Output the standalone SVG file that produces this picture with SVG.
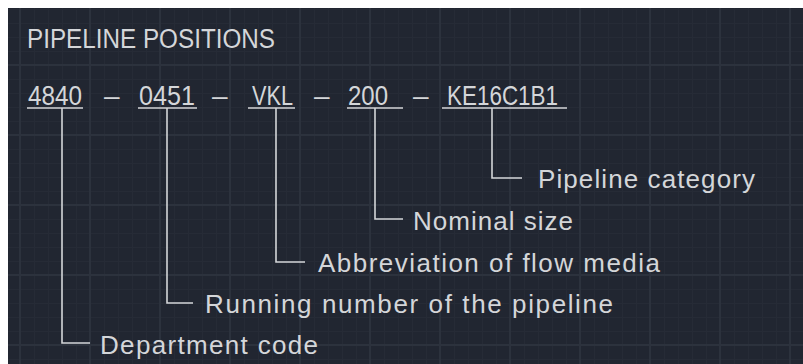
<svg xmlns="http://www.w3.org/2000/svg" width="803" height="364" viewBox="0 0 803 364">
  <defs>
    <pattern id="minor" width="14" height="14" patternUnits="userSpaceOnUse" x="6" y="9">
      <rect x="0" y="0" width="1" height="14" fill="#262b36"/>
      <rect x="0" y="0" width="14" height="1" fill="#262b36"/>
    </pattern>
    <pattern id="major" width="70" height="70" patternUnits="userSpaceOnUse" x="19" y="64">
      <rect x="0" y="0" width="2" height="70" fill="#2c323d"/>
      <rect x="0" y="0" width="70" height="2" fill="#2c323d"/>
    </pattern>
  </defs>
  <style>
    .t { font-family: "Liberation Sans", Arial, sans-serif; fill: #d4d6d9; }
    .title { font-size: 27px; }
    .code { font-size: 28px; }
    .lbl { font-size: 26px; }
    .ln { stroke: #d4d6d9; stroke-width: 1.6; fill: none; }
  </style>
  <rect x="0" y="0" width="803" height="364" fill="#ffffff"/>
  <rect x="8" y="8" width="795" height="356" fill="#212631"/>
  <rect x="8" y="8" width="795" height="356" fill="url(#minor)"/>
  <rect x="8" y="8" width="795" height="356" fill="url(#major)"/>

  <g id="title">
    <text class="t title" x="27" y="48" textLength="248" lengthAdjust="spacingAndGlyphs">PIPELINE POSITIONS</text>
  </g>

  <g id="code-4840">
    <text class="t code" x="28" y="105" textLength="54" lengthAdjust="spacingAndGlyphs">4840</text>
    <line class="ln" x1="27" y1="108" x2="83" y2="108"/>
  </g>
  <text class="t code" x="104" y="105">–</text>
  <g id="code-0451">
    <text class="t code" x="139" y="105" textLength="56" lengthAdjust="spacingAndGlyphs">0451</text>
    <line class="ln" x1="138" y1="108" x2="197" y2="108"/>
  </g>
  <text class="t code" x="212" y="105">–</text>
  <g id="code-VKL">
    <text class="t code" x="252" y="105" textLength="41" lengthAdjust="spacingAndGlyphs">VKL</text>
    <line class="ln" x1="248" y1="108" x2="295" y2="108"/>
  </g>
  <text class="t code" x="314" y="105">–</text>
  <g id="code-200">
    <text class="t code" x="348" y="105" textLength="40" lengthAdjust="spacingAndGlyphs">200</text>
    <line class="ln" x1="347" y1="108" x2="403" y2="108"/>
  </g>
  <text class="t code" x="413" y="105">–</text>
  <g id="code-KE16C1B1">
    <text class="t code" x="447" y="105" textLength="111" lengthAdjust="spacingAndGlyphs">KE16C1B1</text>
    <line class="ln" x1="442" y1="108" x2="567" y2="108"/>
  </g>

  <g id="connectors">
    <path class="ln" d="M62 108 V343 H90"/>
    <path class="ln" d="M167 108 V303 H193"/>
    <path class="ln" d="M276 108 V262 H305"/>
    <path class="ln" d="M375 108 V219 H403"/>
    <path class="ln" d="M492 108 V178 H522"/>
  </g>

  <g id="label-category">
    <text class="t lbl" x="538" y="188" textLength="217">Pipeline category</text>
  </g>
  <g id="label-size">
    <text class="t lbl" x="413" y="230" textLength="160">Nominal size</text>
  </g>
  <g id="label-media">
    <text class="t lbl" x="318" y="272" textLength="342">Abbreviation of flow media</text>
  </g>
  <g id="label-running">
    <text class="t lbl" x="205" y="313" textLength="408">Running number of the pipeline</text>
  </g>
  <g id="label-department">
    <text class="t lbl" x="100" y="354" textLength="218">Department code</text>
  </g>
</svg>
